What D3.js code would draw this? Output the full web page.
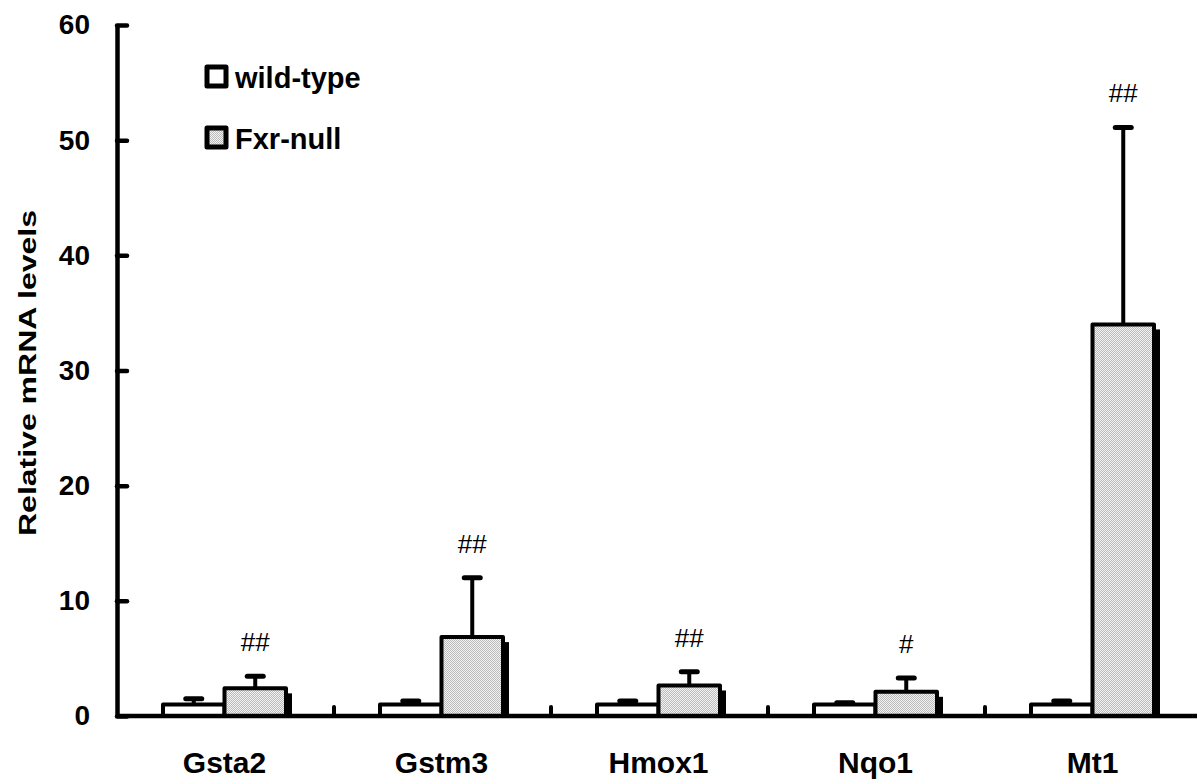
<!DOCTYPE html>
<html>
<head>
<meta charset="utf-8">
<script src="https://cdn.jsdelivr.net/npm/d3@7"></script>
<style>
  body { margin: 0; background: #fff; }
  text { font-family: "Liberation Sans", Arial, sans-serif; }
</style>
</head>
<body>
<div id="chart-container"></div>
<script>
// Values
const genes = ["Gsta2", "Gstm3", "Hmox1", "Nqo1", "Mt1"];
const groups = ["wild-type", "Fxr-null"];
const wildType = [1.0, 1.0, 1.0, 1.0, 1.0];
const wildTypeErr = [0.5, 0.3, 0.3, 0.15, 0.3];
const fxrNull = [2.4, 6.85, 2.65, 2.1, 34.0];
const fxrNullErr = [1.05, 5.15, 1.2, 1.2, 17.1];
const marks = ["##", "##", "##", "#", "##"];
const yTicks = [0, 10, 20, 30, 40, 50, 60];

const width = 1197;
const height = 780;
const marginTop = 25;
const marginLeft = 117;
const baseY = 716;

const x = d3.scaleBand()
  .domain(genes)
  .range([marginLeft, marginLeft + 217 * genes.length]);

const xInner = d3.scaleBand()
  .domain(groups)
  .range([46, 169]);

const y = d3.scaleLinear()
  .domain([0, 60])
  .range([baseY, marginTop]);

const svg = d3.create("svg")
  .attr("width", width)
  .attr("height", height)
  .attr("viewBox", [0, 0, width, height]);

// stipple fill for the Fxr-null bars
const defs = svg.append("defs");
const pat = defs.append("pattern")
  .attr("id", "stipple")
  .attr("width", 2)
  .attr("height", 2)
  .attr("patternUnits", "userSpaceOnUse");
pat.append("rect").attr("width", 2).attr("height", 2).attr("fill", "#f2f2f2");
pat.append("rect").attr("width", 1).attr("height", 1).attr("fill", "#bbbbbb");
pat.append("rect").attr("x", 1).attr("y", 1).attr("width", 1).attr("height", 1).attr("fill", "#bbbbbb");

const data = genes.map((g, i) => ({
  gene: g,
  bars: [
    { group: "wild-type", value: wildType[i], err: wildTypeErr[i] },
    { group: "Fxr-null", value: fxrNull[i], err: fxrNullErr[i] }
  ],
  mark: marks[i]
}));

const geneG = svg.append("g")
  .selectAll("g")
  .data(data)
  .join("g")
  .attr("transform", d => `translate(${x(d.gene)},0)`);

// error bars (drawn first so bar outline covers the base)
const errG = geneG.selectAll(".err")
  .data(d => d.bars)
  .join("g")
  .attr("class", "err");

errG.append("line")
  .attr("x1", d => xInner(d.group) + xInner.bandwidth() / 2)
  .attr("x2", d => xInner(d.group) + xInner.bandwidth() / 2)
  .attr("y1", d => y(d.value))
  .attr("y2", d => y(d.value + d.err))
  .attr("stroke", "#000")
  .attr("stroke-width", 4);

errG.append("line")
  .attr("x1", d => xInner(d.group) + xInner.bandwidth() / 2 - 8)
  .attr("x2", d => xInner(d.group) + xInner.bandwidth() / 2 + 8)
  .attr("y1", d => y(d.value + d.err))
  .attr("y2", d => y(d.value + d.err))
  .attr("stroke", "#000")
  .attr("stroke-width", 5)
  .attr("stroke-linecap", "round");

// shadow on the right of the Fxr-null bar
geneG.append("rect")
  .attr("x", d => xInner("Fxr-null") + xInner.bandwidth() + 1)
  .attr("y", d => y(d.bars[1].value) + 5)
  .attr("width", 5)
  .attr("height", d => baseY - y(d.bars[1].value) - 5)
  .attr("fill", "#000");

// bars
geneG.selectAll(".bar")
  .data(d => d.bars)
  .join("rect")
  .attr("class", "bar")
  .attr("x", d => xInner(d.group))
  .attr("y", d => y(d.value))
  .attr("width", xInner.bandwidth())
  .attr("height", d => baseY - y(d.value))
  .attr("fill", d => d.group === "wild-type" ? "#fff" : "url(#stipple)")
  .attr("stroke", "#000")
  .attr("stroke-width", 4)
  .attr("stroke-linejoin", "round");

// significance marks
geneG.append("text")
  .attr("x", xInner("Fxr-null") + xInner.bandwidth() / 2)
  .attr("y", d => y(d.bars[1].value + d.bars[1].err) - 25)
  .attr("text-anchor", "middle")
  .attr("font-size", "26px")
  .text(d => d.mark);

// x axis
svg.append("line")
  .attr("x1", marginLeft)
  .attr("x2", width)
  .attr("y1", baseY)
  .attr("y2", baseY)
  .attr("stroke", "#000")
  .attr("stroke-width", 4.5);

svg.append("g")
  .selectAll("line")
  .data(genes.slice(1))
  .join("line")
  .attr("x1", d => x(d))
  .attr("x2", d => x(d))
  .attr("y1", baseY)
  .attr("y2", baseY - 9)
  .attr("stroke", "#000")
  .attr("stroke-width", 4)
  .attr("stroke-linecap", "round");

svg.append("g")
  .selectAll("text")
  .data(genes)
  .join("text")
  .attr("x", d => x(d) + x.bandwidth() / 2 - 1)
  .attr("y", 773)
  .attr("text-anchor", "middle")
  .attr("font-size", "30px")
  .attr("font-weight", "bold")
  .text(d => d);

// y axis
svg.append("g")
  .attr("transform", `translate(${marginLeft},0)`)
  .call(d3.axisLeft(y).tickValues(yTicks).tickSize(-10).tickSizeOuter(0).tickPadding(27))
  .call(g => g.select(".domain").attr("stroke-width", 4.5))
  .call(g => g.selectAll(".tick line").attr("stroke-width", 4.5).attr("stroke-linecap", "round"))
  .call(g => g.selectAll(".tick text")
    .attr("font-family", "Liberation Sans, Arial, sans-serif")
    .attr("font-size", "28px")
    .attr("font-weight", "bold")
    .attr("fill", "#000"));

svg.append("text")
  .attr("transform", "translate(36,373) rotate(-90)")
  .attr("text-anchor", "middle")
  .attr("font-size", "23px")
  .attr("font-weight", "bold")
  .attr("textLength", 326)
  .attr("lengthAdjust", "spacingAndGlyphs")
  .text("Relative mRNA levels");

// legend
const legend = svg.append("g")
  .attr("transform", "translate(207,67)");

legend.selectAll("rect")
  .data(groups)
  .join("rect")
  .attr("x", 0)
  .attr("y", (d, i) => i * 61)
  .attr("width", 19)
  .attr("height", 19)
  .attr("fill", d => d === "wild-type" ? "#fff" : "url(#stipple)")
  .attr("stroke", "#000")
  .attr("stroke-width", 5)
  .attr("stroke-linejoin", "round");

legend.selectAll("text")
  .data(groups)
  .join("text")
  .attr("x", 28)
  .attr("y", (d, i) => i * 61 + 21)
  .attr("font-size", "29px")
  .attr("font-weight", "bold")
  .text(d => d);

document.getElementById("chart-container").appendChild(svg.node());
</script>
</body>
</html>
